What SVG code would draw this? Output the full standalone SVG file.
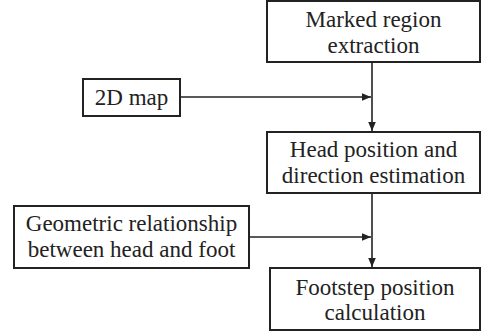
<svg xmlns="http://www.w3.org/2000/svg" width="482" height="334" viewBox="0 0 482 334">
<defs>
<marker id="ah" markerUnits="userSpaceOnUse" markerWidth="10" markerHeight="10" viewBox="0 0 10 10" refX="9" refY="5" orient="auto">
<path d="M0,1.2 L9,5 L0,8.8 Z" fill="#222"/>
</marker>
</defs>
<rect width="482" height="334" fill="#fff"/>
<g id="connectors" fill="none" stroke="#222" stroke-width="1.6">
<line x1="372" y1="62" x2="372" y2="131" marker-end="url(#ah)"/>
<line x1="180" y1="97" x2="371" y2="97" marker-end="url(#ah)"/>
<line x1="372" y1="193" x2="372" y2="267" marker-end="url(#ah)"/>
<line x1="249" y1="237" x2="371" y2="237" marker-end="url(#ah)"/>
</g>
<g id="marked">
<rect x="267" y="1" width="213" height="61" fill="#fff" stroke="#222" stroke-width="2"/>
<text x="373.5" y="27" font-family="Liberation Serif" font-size="23" fill="#222" text-anchor="middle">Marked region</text>
<text x="373.5" y="53" font-family="Liberation Serif" font-size="23" fill="#222" text-anchor="middle">extraction</text>
</g>
<g id="map2d">
<rect x="83" y="79" width="97" height="37" fill="#fff" stroke="#222" stroke-width="2"/>
<text x="131.5" y="105" font-family="Liberation Serif" font-size="23" fill="#222" text-anchor="middle">2D map</text>
</g>
<g id="head">
<rect x="267" y="132" width="213" height="61" fill="#fff" stroke="#222" stroke-width="2"/>
<text x="373.5" y="157" font-family="Liberation Serif" font-size="23" fill="#222" text-anchor="middle">Head position and</text>
<text x="373.5" y="183" font-family="Liberation Serif" font-size="23" fill="#222" text-anchor="middle">direction estimation</text>
</g>
<g id="geometric">
<rect x="14" y="206" width="235" height="62" fill="#fff" stroke="#222" stroke-width="2"/>
<text x="131.5" y="231" font-family="Liberation Serif" font-size="23" fill="#222" text-anchor="middle">Geometric relationship</text>
<text x="131.5" y="257" font-family="Liberation Serif" font-size="23" fill="#222" text-anchor="middle">between head and foot</text>
</g>
<g id="footstep">
<rect x="270" y="268" width="210" height="62" fill="#fff" stroke="#222" stroke-width="2"/>
<text x="375" y="295" font-family="Liberation Serif" font-size="23" fill="#222" text-anchor="middle">Footstep position</text>
<text x="375" y="320" font-family="Liberation Serif" font-size="23" fill="#222" text-anchor="middle">calculation</text>
</g>
</svg>
